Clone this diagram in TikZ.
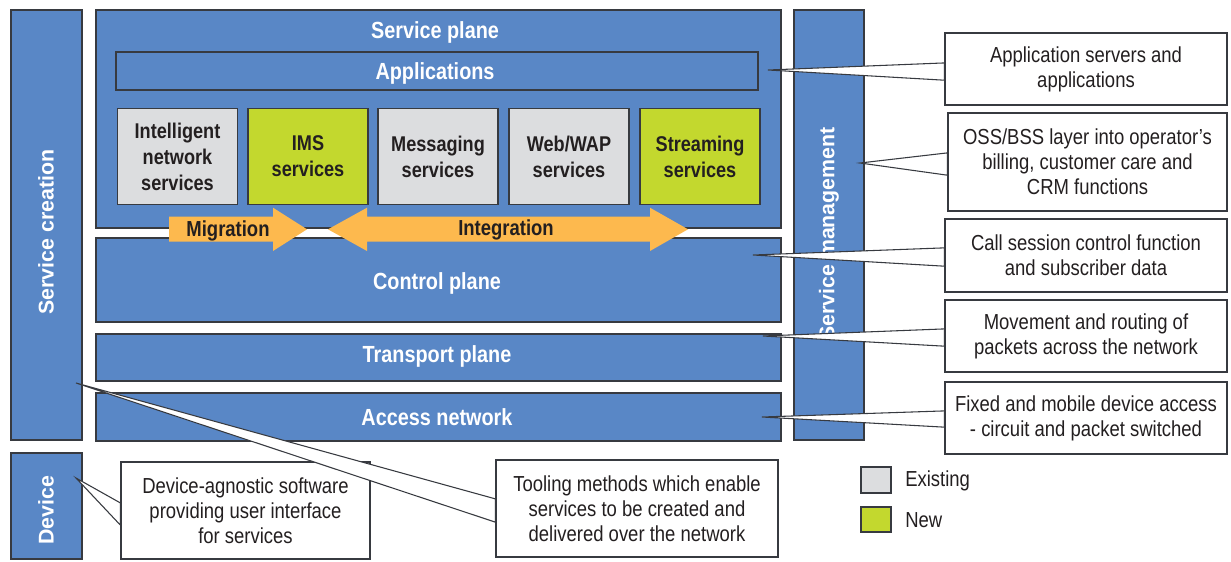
\documentclass[tikz,border=0pt]{standalone}
\usepackage{fontspec}
\setmainfont{Liberation Sans}[FakeStretch=0.85]
\newfontfamily\widefont{Liberation Sans}
\usetikzlibrary{calc,fit}
\pgfdeclarelayer{wedgesA}
\pgfdeclarelayer{boxesA}
\pgfdeclarelayer{wedgesB}
\pgfdeclarelayer{boxesB}
\pgfsetlayers{main,wedgesA,boxesA,wedgesB,boxesB}
\definecolor{planeblue}{RGB}{89,135,198}
\definecolor{edgegray}{RGB}{55,58,64}
\definecolor{oldgray}{RGB}{220,221,223}
\definecolor{newgreen}{RGB}{195,216,46}
\definecolor{arroworange}{RGB}{253,185,78}
\definecolor{inkdark}{RGB}{35,31,32}
\begin{document}
\begin{tikzpicture}[x=0.75pt,y=-0.75pt,
  bar/.style={draw=edgegray, line width=0.8pt, fill=planeblue, inner sep=0pt},
  svcold/.style={draw=edgegray, line width=0.8pt, fill=oldgray, inner sep=0pt, minimum width=90pt, minimum height=72pt, align=center, text=inkdark, font=\bfseries\fontsize{16}{19.5}\selectfont},
  svcnew/.style={svcold, fill=newgreen},
  planelabel/.style={text=white, inner sep=0pt, font=\bfseries\fontsize{17.5}{21}\selectfont},
  vlabel/.style={text=white, inner sep=0pt, rotate=90, font=\widefont\bfseries\fontsize{16}{19}\selectfont},
  arrowlabel/.style={text=inkdark, inner sep=0pt, font=\bfseries\fontsize{16.3}{19}\selectfont},
  callbox/.style={draw=edgegray, line width=0.9pt, fill=white, inner sep=0pt, minimum width=211.5pt, minimum height=54pt, align=center, text=inkdark, font=\fontsize{16.3}{18.8}\selectfont},
  wedge/.style={draw=edgegray, line width=0.8pt, fill=white, line join=miter},
  legendbox/.style={draw=edgegray, line width=0.9pt, inner sep=0pt},
  legendtext/.style={text=inkdark, inner sep=0pt, anchor=west, font=\fontsize{16.3}{19}\selectfont},
  migarrow/.style={fill=arroworange, draw=none}
]
\useasboundingbox (0,0) rectangle (1231,561);

% side bars
\node[bar, fit={(11,10) (82,440)}] (screation) {};
\node[vlabel] (screationlbl) at (46,232) {Service creation};
\node[bar, fit={(11,453) (82,559)}] (device) {};
\node[vlabel] (devicelbl) at (46,510) {Device};
\node[bar, fit={(794,10) (864,440)}] (smgmt) {};
\node[vlabel] (smgmtlbl) at (829,234) {Service management};

% planes
\node[bar, fit={(96,10) (781,228)}] (splane) {};
\node[planelabel] (splanelbl) at (435,32) {Service plane};
\node[bar, fit={(116,52) (758,90)}] (apps) {};
\node[planelabel] (appslbl) at (435,73.5) {Applications};

\node[svcold] (ins) at (177.5,156.5) {Intelligent\\network\\services};
\node[svcnew] (ims) at (308,156.5) {IMS\\services};
\node[svcold] (msg) at (438,156.5) {Messaging\\services};
\node[svcold] (web) at (569,156.5) {Web/WAP\\services};
\node[svcnew] (stream) at (700,156.5) {Streaming\\services};

\node[bar, fit={(96,238) (781,322)}] (cplane) {};
\node[planelabel] (cplanelbl) at (437,283) {Control plane};
\node[bar, fit={(96,334) (781,381)}] (tplane) {};
\node[planelabel] (tplanelbl) at (437,356.5) {Transport plane};
\node[bar, fit={(96,393) (781,441)}] (anet) {};
\node[planelabel] (anetlbl) at (437,417.5) {Access network};

% migration / integration arrows
\fill[migarrow] (169,216.7) -- (273,216.7) -- (273,207.7) -- (307,229.3) -- (273,251) -- (273,241.7) -- (169,241.7) -- cycle;
\node[arrowlabel] (miglbl) at (228,230.5) {Migration};
\fill[migarrow] (328,229.3) -- (367,207.7) -- (367,216.7) -- (650,216.7) -- (650,207.7) -- (688,229.3) -- (650,251) -- (650,241.7) -- (367,241.7) -- (367,251) -- cycle;
\node[arrowlabel] (intlbl) at (506,229.5) {Integration};

% callout tips
\coordinate (t1) at (768,70);
\coordinate (t2) at (860,163);
\coordinate (t3) at (753,255);
\coordinate (t4) at (763,336);
\coordinate (t5) at (762,417);
\coordinate (t6) at (76,478);
\coordinate (t7) at (76,383);

% callout boxes
\begin{pgfonlayer}{boxesA}
\node[callbox] (c1) at (1086,69) {Application servers and\\applications};
\node[callbox, minimum width=209.25pt, minimum height=73.5pt] (c2) at (1087.5,162) {OSS/BSS layer into operator’s\\billing, customer care and\\CRM functions};
\node[callbox, minimum height=54.75pt] (c3) at (1086,255.5) {Call session control function\\and subscriber data};
\node[callbox] (c4) at (1086,336) {Movement and routing of\\packets across the network};
\node[callbox] (c5) at (1086,418) {Fixed and mobile device access\\- circuit and packet switched};
\node[callbox, minimum width=186.75pt, minimum height=72.75pt] (c6) at (245.5,510.5) {Device-agnostic software\\providing user interface\\for services};
\end{pgfonlayer}
\begin{pgfonlayer}{boxesB}
\node[callbox, minimum height=72.75pt] (c7) at (637,508.5) {Tooling methods which enable\\services to be created and\\delivered over the network};
\end{pgfonlayer}

% callout pointers
\begin{pgfonlayer}{wedgesA}
\filldraw[wedge] (t1) -- ($(c1.north west)!0.417!(c1.south west)$) -- ($(c1.north west)!0.653!(c1.south west)$) -- cycle;
\filldraw[wedge] (t2) -- ($(c2.north west)!0.408!(c2.south west)$) -- ($(c2.north west)!0.633!(c2.south west)$) -- cycle;
\filldraw[wedge] (t3) -- ($(c3.north west)!0.397!(c3.south west)$) -- ($(c3.north west)!0.644!(c3.south west)$) -- cycle;
\filldraw[wedge] (t4) -- ($(c4.north west)!0.403!(c4.south west)$) -- ($(c4.north west)!0.639!(c4.south west)$) -- cycle;
\filldraw[wedge] (t5) -- ($(c5.north west)!0.403!(c5.south west)$) -- ($(c5.north west)!0.625!(c5.south west)$) -- cycle;
\filldraw[wedge] (t6) -- ($(c6.north west)!0.423!(c6.south west)$) -- ($(c6.north west)!0.649!(c6.south west)$) -- cycle;
\end{pgfonlayer}
\begin{pgfonlayer}{wedgesB}
\filldraw[wedge] (t7) -- ($(c7.north west)!0.402!(c7.south west)$) -- ($(c7.north west)!0.639!(c7.south west)$) -- cycle;
\end{pgfonlayer}

% legend
\node[legendbox, fill=oldgray, fit={(861,467) (891,493)}] (legold) {};
\node[legendtext] (legoldlbl) at (905,481) {Existing};
\node[legendbox, fill=newgreen, fit={(861,507) (891,532)}] (legnew) {};
\node[legendtext] (legnewlbl) at (905,520) {New};
\end{tikzpicture}
\end{document}
